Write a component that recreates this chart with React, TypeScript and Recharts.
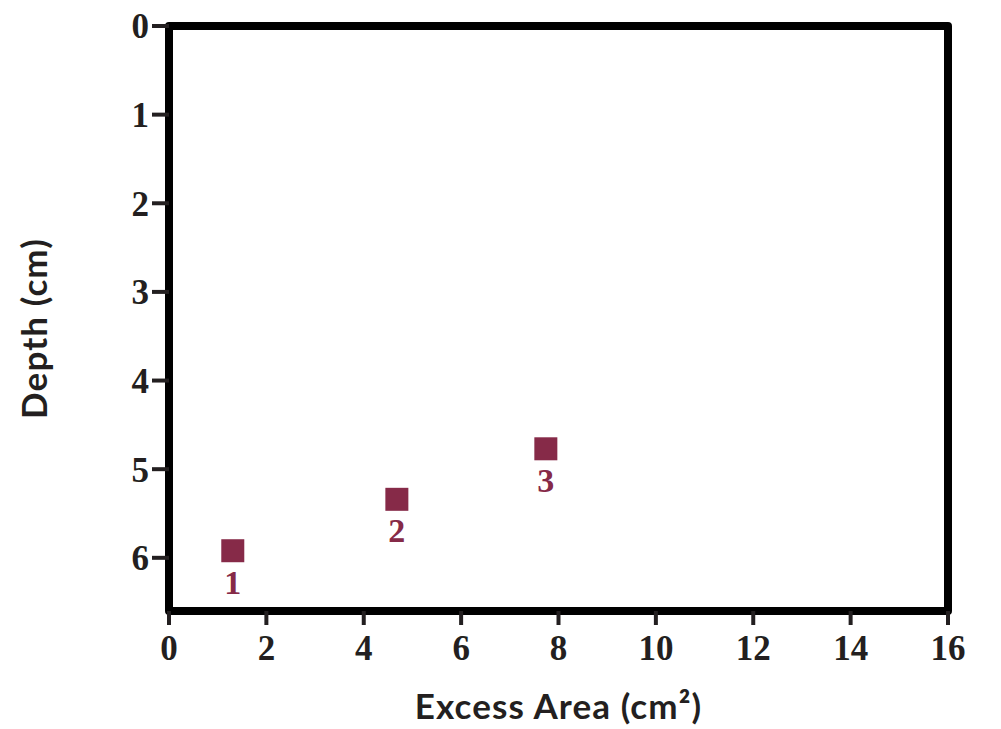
import React from 'react';
import { ScatterChart, Scatter, XAxis, YAxis, ReferenceArea } from 'recharts';

const excessArea = [1.31, 4.68, 7.74];
const depth = [5.92, 5.34, 4.77];
const pointLabels = ['1', '2', '3'];
const xTicks = [0, 2, 4, 6, 8, 10, 12, 14, 16];
const yTicks = [0, 1, 2, 3, 4, 5, 6];

const data = excessArea.map((x, i) => ({ x, y: depth[i], label: pointLabels[i] }));

const MAROON = '#862a48';
const INK = '#231f20';
const tickFont = { fontFamily: '"Liberation Serif", serif', fontWeight: 700, fontSize: 35, fill: INK };
const titleStyle = { fontFamily: 'Lato, sans-serif', fontWeight: 700, fontSize: 35, fill: INK, letterSpacing: 1.1 };

const SquareShape = (props: any) => {
  const { cx, cy, payload } = props;
  const s = 23;
  return (
    <g>
      <rect x={cx - s / 2} y={cy - s / 2} width={s} height={s} fill={MAROON} />
      <text x={cx} y={cy + 43} textAnchor="middle" fill={MAROON}
        style={{ fontFamily: '"Liberation Serif", serif', fontWeight: 700, fontSize: 34 }}>
        {payload.label}
      </text>
    </g>
  );
};

const XTitle = (props: any) => {
  const vb = props.viewBox || {};
  const cx = vb.x + vb.width / 2;
  return (
    <text x={cx} y={719} textAnchor="middle" style={titleStyle}>Excess Area (cm²)</text>
  );
};

const YTitle = (props: any) => {
  const vb = props.viewBox || {};
  const cy = vb.y + vb.height / 2 + 10;
  const cx = 47;
  return (
    <text x={cx} y={cy} textAnchor="middle" transform={`rotate(-90, ${cx}, ${cy})`} style={titleStyle}>Depth (cm)</text>
  );
};

export default function App() {
  return (
    <div style={{ position: 'absolute', left: 0, top: 0, background: '#fff' }}>
      <ScatterChart width={1001} height={729} margin={{ top: 26, right: 53, left: 0, bottom: 0 }}>
        <XAxis type="number" dataKey="x" domain={[0, 16]} ticks={xTicks} axisLine={false}
          tickLine={{ stroke: INK, strokeWidth: 4 }} tickSize={14} tickMargin={10}
          tick={tickFont} height={118} interval={0}
          label={<XTitle />} />
        <YAxis type="number" dataKey="y" domain={[0, 6.6]} ticks={yTicks} reversed axisLine={false}
          tickLine={{ stroke: INK, strokeWidth: 4 }} tickSize={17} tickMargin={3}
          tick={tickFont} width={169} interval={0}
          label={<YTitle />} />
        <ReferenceArea x1={0} x2={16} y1={0} y2={6.6} fill="none" stroke="#000" strokeWidth={8}
          strokeLinejoin="round" ifOverflow="visible" />
        <Scatter data={data} shape={SquareShape} isAnimationActive={false} />
      </ScatterChart>
    </div>
  );
}
